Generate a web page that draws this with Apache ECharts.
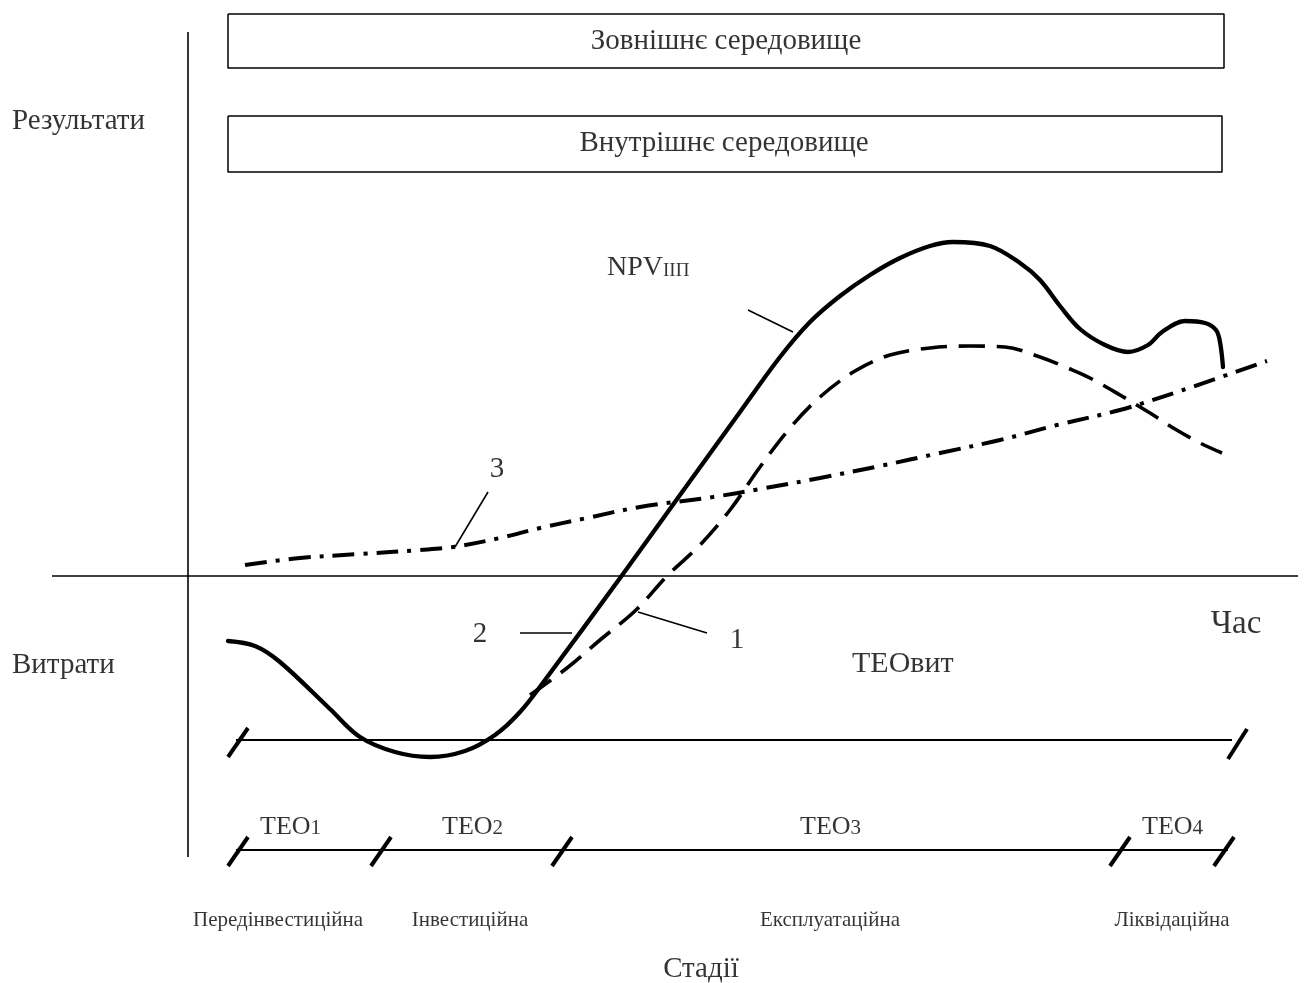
<!DOCTYPE html>
<html>
<head>
<meta charset="utf-8">
<script src="https://cdn.jsdelivr.net/npm/echarts@6/dist/echarts.min.js"></script>
<style>
html,body{margin:0;padding:0;background:#fff;}
#chart{width:1307px;height:983px;}
</style>
</head>
<body>
<div id="chart"></div>
<script>
// ---- Data (diagram coordinates on a 1307 x 983 canvas scale) ----
const curveNPV1 = [[228,641],[255,646],[280,662],[330,709],[360,737],[395,752],[430,757],[465,751],[495,735],[520,712],[545,680],[623,574],[680,495],[740,412],[780,357],[810,322],[840,296],[870,275],[900,258],[930,246],[953,242],[990,246],[1020,263],[1040,280],[1060,306],[1080,329],[1105,345],[1128,352],[1148,345],[1162,332],[1185,321],[1205,323],[1216,330],[1220,342],[1223,367]];
const curveNPV2 = [[530,695],[567,668],[600,640],[636,610],[667,576],[700,545],[730,510],[760,467],[790,428],[820,397],[855,371],[890,355],[930,348],[970,346],[1005,347],[1040,357],[1070,369],[1090,378],[1120,395],[1150,413],[1175,429],[1200,443],[1222,453]];
const curveNPV3 = [[245,565],[300,558],[360,554],[420,550],[453,547],[500,538],[540,528],[587,518],[640,507],[713,497],[760,489],[820,478],[880,466],[940,453],[1000,440],[1057,425],[1120,410],[1183,390],[1267,361]];

const axisLines = [[[188,32],[188,857]],[[52,576],[1298,576]]];
const timelines = [[[236,740],[1232,740]],[[236,850],[1228,850]]];
const leaders = [[[748,310],[793,332]],[[488,492],[455,547]],[[520,633],[572,633]],[[638,612],[707,633]]];
const slashes = [[[228,757],[248,728]],[[1228,759],[1247,729]],[[228,866],[248,837]],[[371,866],[391,837]],[[552,866],[572,837]],[[1110,866],[1130,837]],[[1214,866],[1234,837]]];
const boxes = [[[228,14],[1224,14],[1224,68],[228,68],[228,14]],[[228,116],[1222,116],[1222,172],[228,172],[228,116]]];

const stageNames = ['Передінвестиційна','Інвестиційна','Експлуатаційна','Ліквідаційна'];
const teoLabels = [['ТЕО','1'],['ТЕО','2'],['ТЕО','3'],['ТЕО','4']];

// annotations: [x, y, text, align, size]
const annotations = [
  [726,41,'Зовнішнє середовище','center',29],
  [724,143,'Внутрішнє середовище','center',29],
  [12,121,'Результати','left',29],
  [12,665,'Витрати','left',29],
  [1236,624,'Час','center',33],
  [497,469,'3','center',29],
  [480,634,'2','center',29],
  [737,640,'1','center',29],
  [852,664,'ТЕОвит','left',30],
  [701,969,'Стадії','center',29]
];
const stagePos = [[278,920],[470,920],[830,920],[1172,920]];
const teoPos = [[260,827],[442,827],[800,827],[1142,827]];

const FONT = '"Liberation Serif", "Times New Roman", serif';

const series = [];
function seg(data, width, type) {
  series.push({
    type:'line', data:data, showSymbol:false, symbol:'none', silent:true,
    lineStyle:{color:'#000', width:width, type:type||'solid', cap:'butt'},
    animation:false, z:2
  });
}
axisLines.forEach(s=>seg(s,1.6));
timelines.forEach(s=>seg(s,1.8));
leaders.forEach(s=>seg(s,1.6));
boxes.forEach(s=>seg(s,1.5));
slashes.forEach(s=>seg(s,4));

series.push({type:'line', data:curveNPV1, smooth:0.35, showSymbol:false, symbol:'none', silent:true, animation:false,
  lineStyle:{color:'#000', width:4.3, cap:'round', join:'round'}, z:3});
series.push({type:'line', data:curveNPV2, smooth:0.35, showSymbol:false, symbol:'none', silent:true, animation:false,
  lineStyle:{color:'#000', width:3.6, type:[26,12], cap:'butt'}, z:3});
series.push({type:'line', data:curveNPV3, smooth:0.35, showSymbol:false, symbol:'none', silent:true, animation:false,
  lineStyle:{color:'#000', width:4, type:[22,9,4,9], cap:'butt'}, z:3});

const labelData = [];
annotations.forEach(a=>{
  labelData.push({value:[a[0],a[1]], label:{formatter:a[2], align:a[3], fontSize:a[4]}});
});
stageNames.forEach((n,i)=>{
  labelData.push({value:stagePos[i], label:{formatter:n, align:'center', fontSize:21}});
});
teoLabels.forEach((t,i)=>{
  labelData.push({value:teoPos[i], label:{formatter:'{a|'+t[0]+'}{b|'+t[1]+'}', align:'left'}});
});
labelData.push({value:[607,268], label:{formatter:'{n|NPV}{s|ІІП}', align:'left'}});

series.push({
  type:'scatter', data:labelData, symbolSize:0, silent:true, animation:false, z:5,
  label:{show:true, position:[0,0], verticalAlign:'middle', color:'#000', fontFamily:FONT, fontSize:29,
    rich:{
      a:{fontSize:26, fontFamily:FONT, color:'#000', verticalAlign:'bottom'},
      b:{fontSize:21, fontFamily:FONT, color:'#000', verticalAlign:'bottom', padding:[0,0,1,0]},
      n:{fontSize:28, fontFamily:FONT, color:'#000', verticalAlign:'bottom'},
      s:{fontSize:19, fontFamily:FONT, color:'#000', verticalAlign:'bottom', padding:[0,0,1,0]}
    }
  }
});

const chart = echarts.init(document.getElementById('chart'), null, {renderer:'canvas'});
chart.setOption({
  backgroundColor:'#fff',
  animation:false,
  grid:{left:0,right:0,top:0,bottom:0},
  xAxis:{type:'value', min:0, max:1307, show:false},
  yAxis:{type:'value', min:0, max:983, inverse:true, show:false},
  series:series
});
</script>
</body>
</html>
